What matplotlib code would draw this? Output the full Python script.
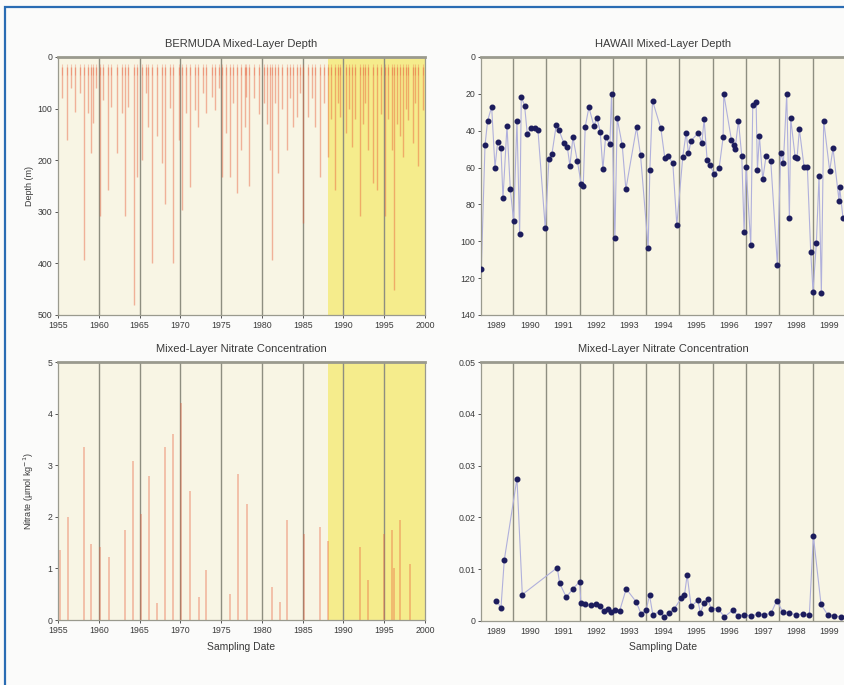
import matplotlib
matplotlib.use("Agg")
import matplotlib.pyplot as plt
from matplotlib.patches import Rectangle
import numpy as np

plt.rcParams['font.family'] = ['Liberation Sans', 'DejaVu Sans']

# ---------------- DATA ----------------
# Bermuda mixed-layer depth: winter deepening spikes (year, depth m)
bermuda_years = [1955.5, 1956.07, 1956.6, 1957.1, 1957.7, 1958.2, 1958.7, 1959.05, 1959.3, 1959.7,
                 1960.15, 1960.55, 1961.1, 1961.5, 1962.2, 1962.8, 1963.2, 1963.6, 1964.35, 1964.65,
                 1965.35, 1965.8, 1966.07, 1966.5, 1967.1, 1967.7, 1968.1, 1968.7, 1969.1, 1969.8,
                 1970.15, 1970.75, 1971.2, 1971.8, 1972.2, 1972.8, 1973.2, 1973.85, 1974.25, 1974.7,
                 1975.07, 1975.55, 1976.1, 1976.5, 1976.9, 1977.5, 1977.9, 1978.1, 1978.4, 1979.0,
                 1979.6, 1980.2, 1980.6, 1981.0, 1981.2, 1981.6, 1982.0, 1982.5, 1983.05, 1983.5,
                 1983.85, 1984.3, 1984.7, 1985.0, 1985.7, 1986.1, 1986.5, 1987.1, 1987.6, 1988.1,
                 1988.5, 1988.95, 1989.3, 1989.6, 1990.3, 1990.7, 1991.0, 1991.4, 1992.0, 1992.4,
                 1992.7, 1993.05, 1993.6, 1994.1, 1994.6, 1995.1, 1995.5, 1995.9, 1996.2, 1996.6,
                 1996.95, 1997.35, 1997.7, 1997.95, 1998.5, 1998.8, 1999.2, 1999.7]
bermuda_depths = [80, 161, 60, 106, 70, 393, 109, 186, 128, 60,
                  309, 83, 258, 96, 187, 109, 309, 96, 480, 232,
                  200, 70, 135, 400, 154, 206, 284, 99, 400, 161,
                  297, 109, 251, 103, 135, 70, 109, 77, 103, 60,
                  232, 148, 232, 90, 264, 180, 135, 77, 250, 80,
                  110, 90, 130, 180, 393, 90, 225, 100, 180, 80,
                  135, 116, 70, 322, 116, 80, 135, 232, 90, 193,
                  120, 258, 90, 116, 148, 100, 174, 120, 309, 130,
                  90, 180, 245, 258, 110, 309, 120, 180, 452, 130,
                  154, 193, 100, 122, 167, 90, 212, 103]
bermuda_surface_depth = 20

# Bermuda mixed-layer nitrate spikes (year, umol/kg)
bermuda_no3_years = [1955.25, 1956.26, 1958.2, 1959.1, 1960.15, 1961.2, 1963.2, 1964.2, 1965.15, 1966.15,
                     1967.1, 1968.1, 1969.15, 1970.05, 1971.2, 1972.3, 1973.2, 1976.1, 1977.1, 1978.2,
                     1981.2, 1982.2, 1983.1, 1985.15, 1987.1, 1988.15, 1992.0, 1993.05, 1995.0, 1995.9,
                     1996.2, 1996.95, 1998.15]
bermuda_no3_values = [1.35, 2.0, 3.35, 1.48, 1.42, 1.22, 1.74, 3.09, 2.06, 2.8,
                      0.32, 3.35, 3.6, 4.21, 2.5, 0.45, 0.97, 0.51, 2.83, 2.25,
                      0.64, 0.35, 1.93, 1.67, 1.8, 1.54, 1.42, 0.77, 1.67, 1.74,
                      1.0, 1.93, 1.09]

# Hawaii mixed-layer depth (year, m)
hawaii_years = [1989.05, 1989.16, 1989.24, 1989.36, 1989.46, 1989.54, 1989.64, 1989.70, 1989.82, 1989.92,
                1990.02, 1990.12, 1990.20, 1990.25, 1990.35, 1990.43, 1990.55, 1990.65, 1990.75, 1990.97,
                1991.08, 1991.17, 1991.30, 1991.38, 1991.53, 1991.63, 1991.71, 1991.80, 1991.93,
                1992.05, 1992.11, 1992.17, 1992.28, 1992.43, 1992.52, 1992.62, 1992.70, 1992.78, 1992.91, 1992.96,
                1993.06, 1993.13, 1993.28, 1993.39, 1993.71, 1993.83,
                1994.06, 1994.11, 1994.19, 1994.44, 1994.56, 1994.66, 1994.80, 1994.92,
                1995.10, 1995.20, 1995.27, 1995.35, 1995.57, 1995.67, 1995.74, 1995.83, 1995.91,
                1996.04, 1996.19, 1996.31, 1996.33, 1996.56, 1996.63, 1996.67, 1996.77, 1996.87, 1996.94,
                1997.00, 1997.14, 1997.20, 1997.30, 1997.34, 1997.40, 1997.50, 1997.60, 1997.74, 1997.94,
                1998.04, 1998.12, 1998.22, 1998.30, 1998.34, 1998.47, 1998.53, 1998.60, 1998.74, 1998.84, 1998.94,
                1999.01, 1999.11, 1999.19, 1999.26, 1999.33, 1999.51, 1999.61, 1999.79, 1999.81, 1999.91]
hawaii_depths = [115, 48, 34.5, 27, 60, 46, 49.6, 76.7, 37.4, 71.8,
                 89, 34.5, 96, 21.5, 26.6, 41.8, 38.4, 38.7, 39.6, 93,
                 55.5, 52.6, 36.9, 39.6, 46.8, 48.7, 59, 43.6, 56.2,
                 69, 70, 37.8, 27.3, 37.4, 32.9, 40.5, 61, 43.6, 47.2, 20,
                 98.4, 33.3, 47.8, 71.8, 38.2, 53.2,
                 103.8, 61.3, 23.7, 38.7, 55, 53.7, 57.7, 91.2,
                 54, 41, 52.3, 45.4, 41, 46.8, 33.8, 55.9, 58.6,
                 63.5, 60.4, 43.6, 20, 45, 47.7, 50, 34.5, 53.7, 94.8,
                 59.5, 102, 26, 24.2, 61.3, 42.9, 66.4, 53.7, 56.2, 112.9,
                 51.9, 57.3, 20, 87.5, 33.3, 54, 55, 39.2, 59.5, 59.9, 105.6,
                 127.3, 101, 64.6, 127.9, 34.5, 61.7, 49.5, 78, 70.7, 87.5]

# Hawaii mixed-layer nitrate (year, value)
hawaii_no3_years = [1989.50, 1989.64, 1989.74, 1990.12, 1990.28, 1991.33, 1991.40, 1991.60, 1991.80,
                    1992.00, 1992.04, 1992.15, 1992.35, 1992.50, 1992.60, 1992.73, 1992.85, 1992.93,
                    1993.05, 1993.20, 1993.40, 1993.70, 1993.85,
                    1994.00, 1994.10, 1994.20, 1994.40, 1994.55, 1994.70, 1994.85,
                    1995.05, 1995.15, 1995.23, 1995.35, 1995.55, 1995.63, 1995.73, 1995.85, 1995.95,
                    1996.15, 1996.35, 1996.60, 1996.75, 1996.95,
                    1997.15, 1997.35, 1997.55, 1997.75, 1997.92,
                    1998.10, 1998.30, 1998.50, 1998.70, 1998.90,
                    1999.02, 1999.25, 1999.45, 1999.65, 1999.85]
hawaii_no3_values = [0.0039, 0.0026, 0.0118, 0.0275, 0.0051, 0.0103, 0.0073, 0.0046, 0.0062,
                     0.0076, 0.0035, 0.0033, 0.0030, 0.0033, 0.0028, 0.0020, 0.0024, 0.0018,
                     0.0021, 0.0019, 0.0062, 0.0037, 0.0013,
                     0.0021, 0.0050, 0.0012, 0.0018, 0.0008, 0.0016, 0.0024,
                     0.0044, 0.0050, 0.0089, 0.0028, 0.0040, 0.0015, 0.0034, 0.0042, 0.0024,
                     0.0024, 0.0008, 0.0021, 0.0010, 0.0012,
                     0.0010, 0.0013, 0.0012, 0.0015, 0.0039,
                     0.0018, 0.0015, 0.0012, 0.0013, 0.0012,
                     0.0164, 0.0032, 0.0012, 0.0010, 0.0008]

bermuda_xticks = [1955, 1960, 1965, 1970, 1975, 1980, 1985, 1990, 1995, 2000]
bermuda_highlight = (1988.1, 2000)
hawaii_year_labels = [1989, 1990, 1991, 1992, 1993, 1994, 1995, 1996, 1997, 1998, 1999]

titles = ["BERMUDA Mixed-Layer Depth", "HAWAII Mixed-Layer Depth",
          "Mixed-Layer Nitrate Concentration", "Mixed-Layer Nitrate Concentration"]

# ---------------- STYLE ----------------
W, H = 844, 685
fig = plt.figure(figsize=(W / 100, H / 100), dpi=100)
fig.patch.set_facecolor('#fbfbfa')

BG = '#f8f5e4'
YEL = '#f5ec8c'
GRID = '#8e8e80'
TXT = '#3a3a3a'
RED = '#e8603c'
NAVY = '#1c1c5c'
LINEB = '#b0b0dc'

def px(l, t, r, b):
    return [l / W, 1 - b / H, (r - l) / W, (b - t) / H]

ax1 = fig.add_axes(px(58, 57, 425, 315))
ax2 = fig.add_axes(px(481, 57, 846, 315))
ax3 = fig.add_axes(px(58, 362, 425, 620))
ax4 = fig.add_axes(px(481, 362, 846, 621))

for ax in (ax1, ax2, ax3, ax4):
    ax.set_facecolor(BG)
    for s in ax.spines.values():
        s.set_color('#9a9a8e')
        s.set_linewidth(0.9)
    ax.spines['top'].set_linewidth(2.0)
    ax.tick_params(colors=TXT, labelsize=6.3, length=2, width=0.6, pad=2)

# --- Bermuda depth ---
ax1.set_xlim(1955, 2000)
ax1.set_ylim(500, 0)
ax1.axvspan(*bermuda_highlight, color=YEL, zorder=0.5, lw=0)
for yv in bermuda_xticks[1:-1]:
    ax1.axvline(yv, color=GRID, lw=1.0, zorder=1)
ax1.vlines(bermuda_years, bermuda_surface_depth, bermuda_depths, color=RED, alpha=0.45, lw=1.0, zorder=2)
ax1.vlines(bermuda_years, bermuda_surface_depth - 6, bermuda_surface_depth + 14, color=RED, alpha=0.3, lw=0.8, zorder=2)
ax1.set_xticks(bermuda_xticks)
ax1.set_yticks([0, 100, 200, 300, 400, 500])
ax1.set_ylabel("Depth (m)", fontsize=6.5, color=TXT, labelpad=3)
ax1.set_title(titles[0], fontsize=8, color=TXT, pad=7)

# --- Bermuda nitrate ---
ax3.set_xlim(1955, 2000)
ax3.set_ylim(0, 5)
ax3.axvspan(*bermuda_highlight, color=YEL, zorder=0.5, lw=0)
for yv in bermuda_xticks[1:-1]:
    ax3.axvline(yv, color=GRID, lw=1.0, zorder=1)
ax3.vlines(bermuda_no3_years, 0, bermuda_no3_values, color=RED, alpha=0.45, lw=1.1, zorder=2)
ax3.set_xticks(bermuda_xticks)
ax3.set_yticks([0, 1, 2, 3, 4, 5])
ax3.set_ylabel("Nitrate (\u00b5mol kg$^{-1}$)", fontsize=6.5, color=TXT, labelpad=8)
ax3.set_xlabel("Sampling Date", fontsize=7.5, color=TXT, labelpad=5)
ax3.set_title(titles[2], fontsize=8, color=TXT, pad=7)

# --- Hawaii panels ---
for ax in (ax2, ax4):
    ax.set_xlim(1989.04, 2000)
    for yv in hawaii_year_labels[1:]:
        ax.axvline(yv, color=GRID, lw=1.0, zorder=1)
    ax.set_xticks([y + 0.5 for y in hawaii_year_labels])
    ax.set_xticklabels([str(y) for y in hawaii_year_labels])
    ax.tick_params(axis='x', length=0, pad=4)

ax2.set_ylim(140, 0)
ax2.set_yticks([0, 20, 40, 60, 80, 100, 120, 140])
ax2.plot(hawaii_years, hawaii_depths, color=LINEB, lw=0.8, zorder=2)
ax2.plot(hawaii_years, hawaii_depths, 'o', color=NAVY, ms=3.3, zorder=3)
ax2.set_title(titles[1], fontsize=8, color=TXT, pad=7)

ax4.set_ylim(0, 0.05)
ax4.set_yticks([0, 0.01, 0.02, 0.03, 0.04, 0.05])
ax4.set_yticklabels(['0', '0.01', '0.02', '0.03', '0.04', '0.05'])
ax4.plot(hawaii_no3_years, hawaii_no3_values, color=LINEB, lw=0.8, zorder=2)
ax4.plot(hawaii_no3_years, hawaii_no3_values, 'o', color=NAVY, ms=3.3, zorder=3)
ax4.set_xlabel("Sampling Date", fontsize=7.5, color=TXT, labelpad=5)
ax4.set_title(titles[3], fontsize=8, color=TXT, pad=7)

# blue frame
fig.patches.append(Rectangle((5 / W, -0.05), 1.2, 1 - 7 / H + 0.05, transform=fig.transFigure,
                             fill=False, edgecolor='#2a6cb3', lw=1.6, zorder=10))

fig.savefig("out.png", dpi=100, facecolor=fig.get_facecolor())
